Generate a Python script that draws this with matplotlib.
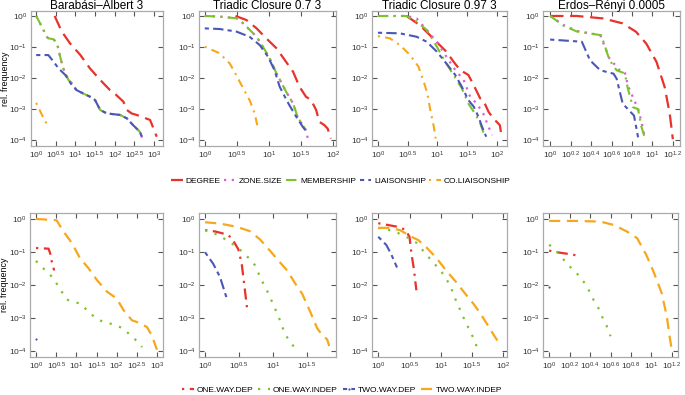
import matplotlib
matplotlib.use("Agg")
import matplotlib.pyplot as plt
import numpy as np
from matplotlib.ticker import FixedLocator, FuncFormatter, NullLocator

plt.rcParams['font.family'] = ['Liberation Sans', 'DejaVu Sans']
plt.rcParams['mathtext.fontset'] = 'custom'
plt.rcParams['mathtext.rm'] = 'Liberation Sans'
plt.rcParams['mathtext.it'] = 'Liberation Sans'

# ---- data: (log10 x, log10 y) pairs ----
titles = ["Barabási–Albert 3", "Triadic Closure 0.7 3",
          "Triadic Closure 0.97 3", "Erdos–Rényi 0.0005"]

top_names = ["DEGREE", "ZONE.SIZE", "MEMBERSHIP", "LIAISONSHIP", "CO.LIAISONSHIP"]
bot_names = ["ONE.WAY.DEP", "ONE.WAY.INDEP", "TWO.WAY.DEP", "TWO.WAY.INDEP"]

# Barabasi-Albert
ba_degree_x = [0.47, 0.65, 0.86, 1.12, 1.37, 1.63, 1.88, 2.0, 2.22, 2.31, 2.43, 2.56, 2.69, 2.9, 2.98, 3.07]
ba_degree_y = [0.0, -0.5, -0.88, -1.25, -1.69, -2.06, -2.39, -2.5, -2.76, -3.03, -3.14, -3.19, -3.25, -3.35, -3.6, -3.89]
ba_member_x = [0.0, 0.1, 0.27, 0.31, 0.44, 0.53, 0.61, 0.69, 0.82, 0.91, 1.03, 1.2, 1.37, 1.5, 1.63, 1.8, 2.14, 2.31, 2.47, 2.64, 2.71]
ba_member_y = [0.0, -0.24, -0.67, -0.72, -0.75, -0.88, -1.31, -1.69, -2.06, -2.17, -2.39, -2.5, -2.6, -2.71, -3.03, -3.14, -3.19, -3.3, -3.52, -3.73, -3.95]
ba_zone_x = ba_member_x
ba_zone_y = ba_member_y
ba_liais_x = [0.0, 0.31, 0.44, 0.57, 0.74, 0.91, 1.03, 1.2, 1.37, 1.5, 1.63, 1.8, 2.14, 2.31, 2.47, 2.64, 2.71]
ba_liais_y = [-1.26, -1.26, -1.47, -1.69, -1.9, -2.23, -2.39, -2.5, -2.6, -2.71, -3.03, -3.14, -3.19, -3.3, -3.52, -3.73, -3.95]
ba_coli_x = [0.0, 0.19, 0.29]
ba_coli_y = [-2.8, -3.3, -3.52]

# Triadic closure 0.7
t7_degree_x = [0.48, 0.65, 0.81, 0.96, 1.12, 1.25, 1.38, 1.48, 1.58, 1.66, 1.74, 1.79, 1.87, 1.92, 1.97]
t7_degree_y = [0.0, -0.13, -0.4, -0.72, -1.04, -1.42, -1.8, -2.28, -2.6, -2.71, -3.03, -3.41, -3.52, -3.63, -3.95]
t7_member_x = [0.0, 0.23, 0.52, 0.65, 0.81, 0.94, 1.04, 1.12, 1.19, 1.27, 1.38, 1.45, 1.53, 1.58]
t7_member_y = [0.0, -0.02, -0.08, -0.34, -0.67, -1.1, -1.47, -1.85, -2.12, -2.44, -2.82, -3.25, -3.52, -3.68]
t7_zone_x = t7_member_x + [1.61]
t7_zone_y = t7_member_y + [-3.95]
t7_liais_x = [0.0, 0.23, 0.49, 0.7, 0.86, 0.99, 1.09, 1.17, 1.25, 1.32, 1.43, 1.53, 1.58]
t7_liais_y = [-0.4, -0.42, -0.5, -0.67, -0.94, -1.32, -1.75, -2.28, -2.6, -2.87, -3.25, -3.57, -3.7]
t7_coli_x = [0.0, 0.23, 0.39, 0.49, 0.6, 0.7, 0.78, 0.82]
t7_coli_y = [-0.99, -1.2, -1.53, -1.9, -2.33, -2.71, -3.14, -3.52]

# Triadic closure 0.97
t97_degree_x = [0.48, 0.7, 0.87, 1.04, 1.15, 1.27, 1.38, 1.52, 1.61, 1.72, 1.77, 1.86, 1.94, 2.05, 2.08]
t97_degree_y = [0.0, -0.29, -0.61, -0.94, -1.15, -1.47, -1.74, -1.9, -2.23, -2.66, -2.71, -3.09, -3.3, -3.52, -3.89]
t97_zone_x = [0.0, 0.48, 0.65, 0.82, 0.99, 1.15, 1.3, 1.44, 1.55, 1.66, 1.77, 1.86, 1.92]
t97_zone_y = [0.0, 0.0, -0.08, -0.45, -0.83, -1.31, -1.74, -2.06, -2.6, -2.82, -3.14, -3.57, -3.84]
t97_member_x = [0.0, 0.48, 0.65, 0.82, 0.99, 1.13, 1.27, 1.41, 1.52, 1.63, 1.72, 1.79]
t97_member_y = [0.0, 0.0, -0.18, -0.45, -0.99, -1.47, -1.9, -2.33, -2.82, -3.14, -3.46, -3.84]
t97_liais_x = [0.0, 0.37, 0.65, 0.82, 0.99, 1.15, 1.3, 1.41, 1.52, 1.61, 1.69, 1.75, 1.82]
t97_liais_y = [-0.54, -0.56, -0.67, -0.83, -1.15, -1.53, -1.9, -2.28, -2.71, -2.92, -3.25, -3.57, -3.89]
t97_coli_x = [0.0, 0.2, 0.37, 0.54, 0.68, 0.76, 0.83, 0.88, 0.94, 0.97]
t97_coli_y = [-0.65, -0.72, -0.94, -1.26, -1.63, -2.06, -2.49, -3.03, -3.57, -3.95]

# Erdos-Renyi
er_degree_x = [0.0, 0.26, 0.52, 0.71, 0.84, 0.94, 1.04, 1.12, 1.17, 1.2]
er_degree_y = [0.0, 0.0, -0.08, -0.24, -0.51, -0.89, -1.48, -2.29, -3.16, -3.97]
er_zone_x = [0.0, 0.13, 0.26, 0.49, 0.58, 0.68, 0.73, 0.76, 0.86, 0.89, 0.93]
er_zone_y = [0.0, -0.29, -0.48, -0.62, -1.37, -1.75, -1.8, -2.24, -3.0, -3.37, -3.97]
er_member_x = [0.0, 0.13, 0.26, 0.5, 0.58, 0.65, 0.73, 0.76, 0.81, 0.86, 0.89, 0.93]
er_member_y = [0.0, -0.31, -0.5, -0.62, -1.42, -1.75, -1.85, -2.34, -2.94, -3.0, -3.54, -3.97]
er_liais_x = [0.0, 0.31, 0.39, 0.49, 0.62, 0.65, 0.71, 0.76, 0.82, 0.86]
er_liais_y = [-0.76, -0.83, -1.43, -1.75, -1.86, -2.02, -2.83, -3.0, -3.21, -3.91]
er_coli_x = []
er_coli_y = []

# bottom row: ONE.WAY.DEP, ONE.WAY.INDEP, TWO.WAY.DEP, TWO.WAY.INDEP
ba_owd_x = [0.0, 0.31, 0.35, 0.39, 0.45]
ba_owd_y = [-0.88, -0.9, -1.04, -1.29, -1.56]
ba_owi_x = [0.0, 0.1, 0.27, 0.43, 0.6, 0.76, 0.93, 1.09, 1.22, 1.34, 1.51, 1.67, 1.92, 2.17, 2.38, 2.54, 2.63]
ba_owi_y = [-1.27, -1.42, -1.59, -1.8, -2.13, -2.44, -2.51, -2.56, -2.71, -2.86, -3.02, -3.12, -3.19, -3.32, -3.57, -3.73, -3.88]
ba_twd_x = [0.0]
ba_twd_y = [-3.62]
ba_twi_x = [0.0, 0.51, 0.68, 0.89, 1.09, 1.3, 1.51, 1.76, 2.0, 2.17, 2.38, 2.5, 2.75, 2.87, 3.0]
ba_twi_y = [0.0, -0.04, -0.38, -0.73, -1.19, -1.49, -1.85, -2.2, -2.41, -2.76, -3.07, -3.12, -3.27, -3.52, -3.96]

t7_owd_x = [0.0, 0.15, 0.32, 0.39, 0.49, 0.54, 0.59, 0.62]
t7_owd_y = [-0.34, -0.38, -0.47, -0.57, -0.92, -1.36, -2.21, -2.73]
t7_owi_x = [0.0, 0.12, 0.22, 0.34, 0.47, 0.61, 0.74, 0.81, 0.91, 1.01, 1.11, 1.18, 1.33]
t7_owi_y = [-0.34, -0.42, -0.52, -0.67, -0.85, -1.11, -1.41, -1.76, -2.16, -2.61, -3.1, -3.5, -3.93]
t7_twd_x = [0.0, 0.12, 0.22, 0.32]
t7_twd_y = [-1.01, -1.36, -1.76, -2.41]
t7_twi_x = [0.0, 0.22, 0.47, 0.66, 0.81, 0.96, 1.08, 1.21, 1.33, 1.43, 1.55, 1.65, 1.72, 1.8, 1.83]
t7_twi_y = [-0.1, -0.14, -0.24, -0.37, -0.62, -0.97, -1.26, -1.56, -1.96, -2.26, -2.81, -3.3, -3.5, -3.65, -3.85]

t97_owd_x = [0.0, 0.29, 0.43, 0.5, 0.53, 0.57, 0.61]
t97_owd_y = [-0.13, -0.23, -0.32, -0.54, -1.03, -1.52, -2.16]
t97_owi_x = [0.0, 0.24, 0.45, 0.61, 0.77, 0.91, 1.04, 1.15, 1.23, 1.31, 1.39, 1.48, 1.55, 1.58]
t97_owi_y = [-0.27, -0.36, -0.54, -0.72, -1.08, -1.38, -1.67, -2.01, -2.41, -2.75, -3.1, -3.44, -3.71, -3.91]
t97_twd_x = [0.0, 0.13, 0.21, 0.3]
t97_twd_y = [-0.54, -0.79, -1.08, -1.47]
t97_twi_x = [0.0, 0.19, 0.35, 0.51, 0.64, 0.77, 0.93, 1.09, 1.25, 1.39, 1.52, 1.63, 1.76, 1.84, 1.94]
t97_twi_y = [-0.27, -0.27, -0.34, -0.52, -0.64, -0.86, -1.18, -1.57, -1.92, -2.26, -2.56, -2.85, -3.24, -3.49, -3.78]

er_owd_x = [0.0, 0.1, 0.19, 0.28]
er_owd_y = [-0.96, -1.02, -1.06, -1.11]
er_owi_x = [0.0, 0.05, 0.1, 0.17, 0.25, 0.3, 0.37, 0.42, 0.45, 0.49, 0.53, 0.56, 0.6]
er_owi_y = [-0.78, -0.91, -1.07, -1.34, -1.59, -1.74, -2.04, -2.37, -2.54, -2.74, -3.05, -3.22, -3.55]
er_twd_x = [0.0]
er_twd_y = [-2.07]
er_twi_x = [0.0, 0.27, 0.5, 0.63, 0.76, 0.86, 0.95, 1.02, 1.1, 1.15, 1.18, 1.2]
er_twi_y = [-0.06, -0.06, -0.08, -0.18, -0.38, -0.58, -1.09, -1.59, -2.24, -2.94, -3.6, -3.98]

top_data = [
    [(ba_degree_x, ba_degree_y), (ba_zone_x, ba_zone_y), (ba_member_x, ba_member_y), (ba_liais_x, ba_liais_y), (ba_coli_x, ba_coli_y)],
    [(t7_degree_x, t7_degree_y), (t7_zone_x, t7_zone_y), (t7_member_x, t7_member_y), (t7_liais_x, t7_liais_y), (t7_coli_x, t7_coli_y)],
    [(t97_degree_x, t97_degree_y), (t97_zone_x, t97_zone_y), (t97_member_x, t97_member_y), (t97_liais_x, t97_liais_y), (t97_coli_x, t97_coli_y)],
    [(er_degree_x, er_degree_y), (er_zone_x, er_zone_y), (er_member_x, er_member_y), (er_liais_x, er_liais_y), (er_coli_x, er_coli_y)],
]
bot_data = [
    [(ba_owd_x, ba_owd_y), (ba_owi_x, ba_owi_y), (ba_twd_x, ba_twd_y), (ba_twi_x, ba_twi_y)],
    [(t7_owd_x, t7_owd_y), (t7_owi_x, t7_owi_y), (t7_twd_x, t7_twd_y), (t7_twi_x, t7_twi_y)],
    [(t97_owd_x, t97_owd_y), (t97_owi_x, t97_owi_y), (t97_twd_x, t97_twd_y), (t97_twi_x, t97_twi_y)],
    [(er_owd_x, er_owd_y), (er_owi_x, er_owi_y), (er_twd_x, er_twd_y), (er_twi_x, er_twi_y)],
]

# x tick exponents per column, and x limits (log10)
xticks_top = [[0, 0.5, 1, 1.5, 2, 2.5, 3], [0, 0.5, 1, 1.5, 2], [0, 0.5, 1, 1.5, 2], [0, 0.2, 0.4, 0.6, 0.8, 1, 1.2]]
xticks_bot = [[0, 0.5, 1, 1.5, 2, 2.5, 3], [0, 0.5, 1, 1.5], [0, 0.5, 1, 1.5, 2], [0, 0.2, 0.4, 0.6, 0.8, 1, 1.2]]
xlim_top = [(-0.14, 3.23), (-0.09, 2.05), (-0.1, 2.17), (-0.07, 1.27)]
xlim_bot = [(-0.15, 3.15), (-0.09, 1.93), (-0.1, 2.06), (-0.06, 1.26)]

# styles
red, pink, green, blue, orange = "#e8322b", "#d760d4", "#7cc22a", "#4b57b8", "#f6a81c"
top_styles = [
    dict(color=red, ls=(0, (6, 3)), lw=1.6),
    dict(color=pink, ls=(0, (1, 2.5)), lw=1.6),
    dict(color=green, ls=(0, (5, 2.5, 1, 2.5)), lw=1.5),
    dict(color=blue, ls=(0, (2, 2, 5, 2)), lw=1.5),
    dict(color=orange, ls=(0, (1, 2.5, 4, 2.5)), lw=1.5),
]
bot_styles = [
    dict(color=red, ls=(0, (1, 2.5, 5, 2.5)), lw=1.6),
    dict(color=green, ls=(0, (1, 3.5)), lw=1.6),
    dict(color=blue, ls=(0, (2, 2, 5, 2)), lw=1.5),
    dict(color=orange, ls=(0, (5, 3)), lw=1.6),
]


def fmt_exp(v, pos):
    e = np.log10(v)
    return r"$10^{%s}$" % ("%g" % round(e, 2))


def style_axes(ax, xt, xl, yl):
    ax.set_xscale("log")
    ax.set_yscale("log")
    ax.set_xlim(10 ** xl[0], 10 ** xl[1])
    ax.set_ylim(10 ** yl[0], 10 ** yl[1])
    ax.xaxis.set_major_locator(FixedLocator([10.0 ** e for e in xt]))
    ax.xaxis.set_major_formatter(FuncFormatter(fmt_exp))
    ax.yaxis.set_major_locator(FixedLocator([10.0 ** e for e in range(-4, 1)]))
    ax.yaxis.set_major_formatter(FuncFormatter(fmt_exp))
    ax.xaxis.set_minor_locator(NullLocator())
    ax.yaxis.set_minor_locator(NullLocator())
    ax.tick_params(which="major", direction="in", top=True, right=True,
                   length=3.5, width=0.8, color="#555555", labelsize=6,
                   labelcolor="#333333", pad=2.5)
    for s in ax.spines.values():
        s.set_color("#aaaaaa")
        s.set_linewidth(0.9)


def draw(ax, xs, ys, st, nm):
    xv = 10 ** np.array(xs, dtype=float)
    yv = 10 ** np.array(ys, dtype=float)
    if len(xv) == 1:
        return ax.plot(xv, yv, marker="o", ms=1.6, mew=0, label=nm, **st)[0]
    return ax.plot(xv, yv, label=nm, **st)[0]


fig = plt.figure(figsize=(6.85, 3.95), dpi=100)
W, H = 685.0, 395.0
top_px = [(30.7, 163), (199, 336), (372, 507), (543, 680)]
bot_px = [(30, 163), (199, 336), (372, 507), (543, 678)]

top_lines = []
for i in range(4):
    x0, x1 = top_px[i]
    ax = fig.add_axes([x0 / W, 1 - 146 / H, (x1 - x0) / W, (146 - 11) / H])
    lines = [draw(ax, xs, ys, st, nm) for (xs, ys), st, nm in zip(top_data[i], top_styles, top_names)]
    style_axes(ax, xticks_top[i], xlim_top[i], (-4.19, 0.16))
    ax.set_title(titles[i], fontsize=8.5, pad=1.5)
    if i == 0:
        ax.set_ylabel("rel. frequency", fontsize=6.4)
        ax.yaxis.set_label_coords(-0.16, 0.5)
        top_lines = lines

bot_lines = []
for i in range(4):
    x0, x1 = bot_px[i]
    ax = fig.add_axes([x0 / W, 1 - 357 / H, (x1 - x0) / W, (357 - 213) / H])
    lines = [draw(ax, xs, ys, st, nm) for (xs, ys), st, nm in zip(bot_data[i], bot_styles, bot_names)]
    style_axes(ax, xticks_bot[i], xlim_bot[i], (-4.18, 0.18))
    if i == 0:
        ax.set_ylabel("rel. frequency", fontsize=6.4)
        ax.yaxis.set_label_coords(-0.16, 0.5)
        bot_lines = lines

fig.legend(top_lines, top_names, loc="center", bbox_to_anchor=(341 / W, 1 - 181 / H),
           ncol=5, frameon=False, fontsize=6, handlelength=1.4, handletextpad=0.35,
           columnspacing=0.4)
fig.legend(bot_lines, bot_names, loc="center", bbox_to_anchor=(342 / W, 1 - 390 / H),
           ncol=4, frameon=False, fontsize=6, handlelength=1.4, handletextpad=0.35,
           columnspacing=0.6)

fig.savefig("out.png", dpi=100)
